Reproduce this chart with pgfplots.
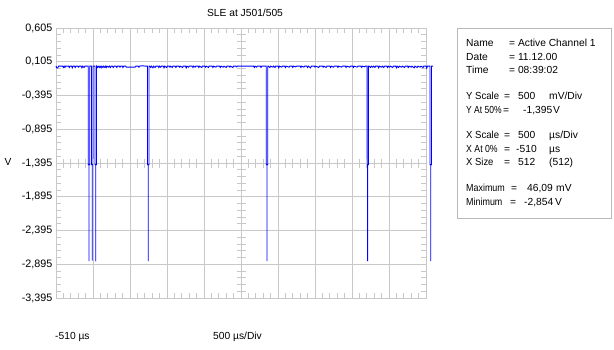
\documentclass[border=0pt]{standalone}
\usepackage{fontspec}
\setmainfont{Liberation Sans}
\usepackage{pgfplots}
\usepackage{pgfplotstable}
\pgfplotsset{compat=1.18}
\definecolor{gridgray}{RGB}{200,200,200}
\definecolor{boxgray}{RGB}{185,185,185}
\definecolor{tracecol}{RGB}{0,0,255}

\pgfplotstableread{
x y
-510 0.04
-500 0.015
-485 0.015
-475 0.04
-420 0.04
-410 0.02
-400 0.04
-390 0.02
-380 0.04
-340 0.04
-330 0.02
-320 0.04
-300 0.04
-290 0.015
-280 0.04
-260 0.04
-250 0.02
-240 0.04
-215 0.04
-205 0.025
-195 0.04
-170 0.04
-160 0.015
-150 0.04
-130 0.02
-120 0.04
-100 0.04
-74 0.04
-74 -1.42
-64 -1.42
-64 -2.85
-64 -1.42
-54 -1.42
-54 0.04
-30 0.04
-30 -1.42
-20 -1.42
-20 -2.84
-20 -1.42
-10 -1.42
-10 0.04
17 0.04
17 -1.42
27 -1.42
27 -2.854
27 -1.42
37 -1.42
37 0.04
50 0.02
60 0.04
75 0.02
85 0.04
100 0.015
110 0.04
125 0.02
135 0.04
150 0.02
160 0.04
170 0.02
180 0.04
200 0.025
210 0.04
225 0.02
235 0.04
250 0.04
265 0.02
275 0.04
300 0.04
312 0.02
322 0.04
345 0.04
355 0.025
365 0.04
385 0.04
395 0.02
405 0.04
430 0.04
440 0.025
560 0.025
570 0.04
600 0.04
610 0.025
620 0.04
650 0.046
700 0.04
727 0.04
727 -1.42
737 -1.42
737 -2.85
737 -1.42
747 -1.42
747 0.04
757 0.04
770 0.02
780 0.04
800 0.015
810 0.04
830 0.02
840 0.04
870 0.04
880 0.02
890 0.04
905 0.025
915 0.04
940 0.04
950 0.015
960 0.04
985 0.02
995 0.04
1020 0.04
1030 0.025
1040 0.04
1060 0.02
1070 0.04
1100 0.04
1110 0.02
1120 0.04
1150 0.04
1160 0.025
1170 0.04
1200 0.02
1210 0.04
1240 0.04
1250 0.015
1260 0.04
1280 0.025
1290 0.04
1330 0.04
1340 0.02
1350 0.04
1370 0.025
1380 0.04
1410 0.04
1420 0.02
1430 0.04
1460 0.02
1470 0.04
1500 0.04
1510 0.025
1520 0.04
1550 0.02
1560 0.04
1600 0.04
1610 0.02
1620 0.04
1650 0.025
1660 0.04
1700 0.04
1710 0.02
1720 0.04
1750 0.025
1760 0.04
1790 0.02
1800 0.04
1830 0.04
1840 0.025
1850 0.04
1880 0.02
1890 0.04
1920 0.04
1930 0.03
1940 0.04
2160 0.04
2170 0.02
2180 0.04
2200 0.025
2210 0.04
2250 0.04
2260 0.02
2270 0.04
2310 0.04
2331 0.04
2331 -1.42
2341 -1.42
2341 -2.85
2341 -1.42
2351 -1.42
2351 0.04
2361 0.04
2380 0.02
2390 0.04
2420 0.025
2430 0.04
2450 0.02
2460 0.04
2490 0.04
2500 0.015
2510 0.04
2540 0.025
2550 0.04
2580 0.04
2590 0.02
2600 0.04
2640 0.025
2650 0.04
2680 0.04
2690 0.02
2700 0.04
2730 0.03
2740 0.04
2790 0.04
2800 0.02
2810 0.04
2840 0.025
2850 0.04
2880 0.04
2890 0.02
2900 0.04
2930 0.015
2940 0.04
2980 0.04
2990 0.025
3000 0.04
3040 0.02
3050 0.04
3090 0.04
3100 0.025
3110 0.04
3140 0.02
3150 0.04
3190 0.04
3200 0.02
3210 0.04
3240 0.025
3250 0.04
3290 0.04
3300 0.02
3310 0.04
3350 0.025
3360 0.04
3400 0.04
3410 0.02
3420 0.04
3460 0.025
3470 0.04
3500 0.04
3510 0.02
3520 0.04
3560 0.025
3570 0.04
3610 0.04
3620 0.02
3630 0.04
3660 0.03
3670 0.04
3692 0.04
3692 -1.42
3702 -1.42
3702 -2.85
3702 -1.42
3712 -1.42
3712 0.04
3722 0.04
3740 0.02
3750 0.04
3770 0.025
3780 0.04
3800 0.02
3810 0.04
3840 0.04
3850 0.015
3860 0.04
3890 0.025
3900 0.04
3920 0.02
3930 0.04
3960 0.04
3970 0.02
3980 0.04
4000 0.025
4010 0.04
4040 0.02
4050 0.04
4080 0.04
4090 0.015
4100 0.04
4120 0.02
4130 0.04
4160 0.025
4170 0.04
4200 0.02
4210 0.04
4240 0.04
4250 0.02
4260 0.04
4290 0.025
4300 0.04
4330 0.015
4340 0.04
4370 0.02
4380 0.04
4410 0.025
4420 0.04
4450 0.02
4460 0.04
4490 0.04
4500 0.01
4510 0.04
4544 0.04
4544 -1.42
4554 -1.42
4554 -2.85
4554 -1.42
4564 -1.42
4564 0.04
4575 0.04
4585 0.04
}\tracedata

\begin{document}
\begin{tikzpicture}[x=1bp,y=1bp]
\fontsize{10.3}{12}\selectfont
\path[use as bounding box] (0,0) rectangle (614,349);
\begin{axis}[
  at={(56bp,51bp)}, anchor=south west,
  scale only axis, width=370bp, height=270bp,
  xmin=-510, xmax=4490, ymin=-3.395, ymax=0.605,
  xtick={-510,-10,...,4490},
  xticklabels={},
  ytick={0.605,0.105,-0.395,-0.895,-1.395,-1.895,-2.395,-2.895,-3.395},
  yticklabel style={font=\fontsize{10.8}{12}\selectfont,
    /pgf/number format/.cd, fixed, fixed zerofill, precision=3, use comma, assume math mode=true},
  minor tick num=4,
  grid=major,
  major grid style={gridgray, line width=1bp},
  axis line style={gridgray, line width=1bp},
  tick style={gridgray, line width=0.8bp},
  major tick length=0pt,
  minor tick length=5bp,
  tick align=inside,
  clip=false,
]
\addplot[tracecol, line width=0.9bp, mark=none, line join=miter] table[x=x,y=y] {\tracedata};
\end{axis}
% centre graticule ticks
\foreach \k in {0,...,40} {\draw[gridgray, line width=0.8bp] (236.5,51+6.75*\k) -- (245.5,51+6.75*\k);}
\foreach \k in {0,...,50} {\draw[gridgray, line width=0.8bp] (56+7.4*\k,181.5) -- (56+7.4*\k,190.5);}
% titles and labels
\node[inner sep=0] at (245,336) {SLE at J501/505};
\node[inner sep=0] at (8,187) {V};
\node[inner sep=0, anchor=mid west] at (55,12) {-510 µs};
\node[inner sep=0, anchor=mid west] at (213,12) {500 µs/Div};
% info box
\draw[boxgray, line width=1bp] (457,131) rectangle (611,321);
\begin{scope}[every node/.style={inner sep=0, anchor=mid west}]
\node at (466,305) {Name}; \node at (509,305) {= Active Channel 1};
\node at (466,291.5) {Date}; \node at (509,291.5) {= 11.12.00};
\node at (466,278) {Time}; \node at (509,278) {= 08:39:02};
\node at (466,252) {\scalebox{0.93}[1]{Y Scale}}; \node at (504,252) {=}; \node at (518,252) {500}; \node at (549,252) {mV/Div};
\node at (466,238.5) {\scalebox{0.83}[1]{Y At 50\%}}; \node at (503,238.5) {=}; \node at (523,238.5) {-1,395}; \node at (553,238.5) {V};
\node at (466,213) {\scalebox{0.93}[1]{X Scale}}; \node at (504,213) {=}; \node at (518,213) {500}; \node at (549,213) {µs/Div};
\node at (466,199.5) {\scalebox{0.85}[1]{X At 0\%}}; \node at (504,199.5) {=}; \node at (516,199.5) {-510}; \node at (549,199.5) {µs};
\node at (466,186) {\scalebox{0.92}[1]{X Size}}; \node at (504,186) {=}; \node at (518,186) {512}; \node at (549,186) {(512)};
\node at (466,160) {\scalebox{0.87}[1]{Maximum}}; \node at (511,160) {=}; \node at (527,160) {46,09}; \node at (556,160) {mV};
\node at (466,146.5) {\scalebox{0.87}[1]{Minimum}}; \node at (510,146.5) {=}; \node at (524,146.5) {-2,854}; \node at (555,146.5) {V};
\end{scope}
\end{tikzpicture}
\end{document}
